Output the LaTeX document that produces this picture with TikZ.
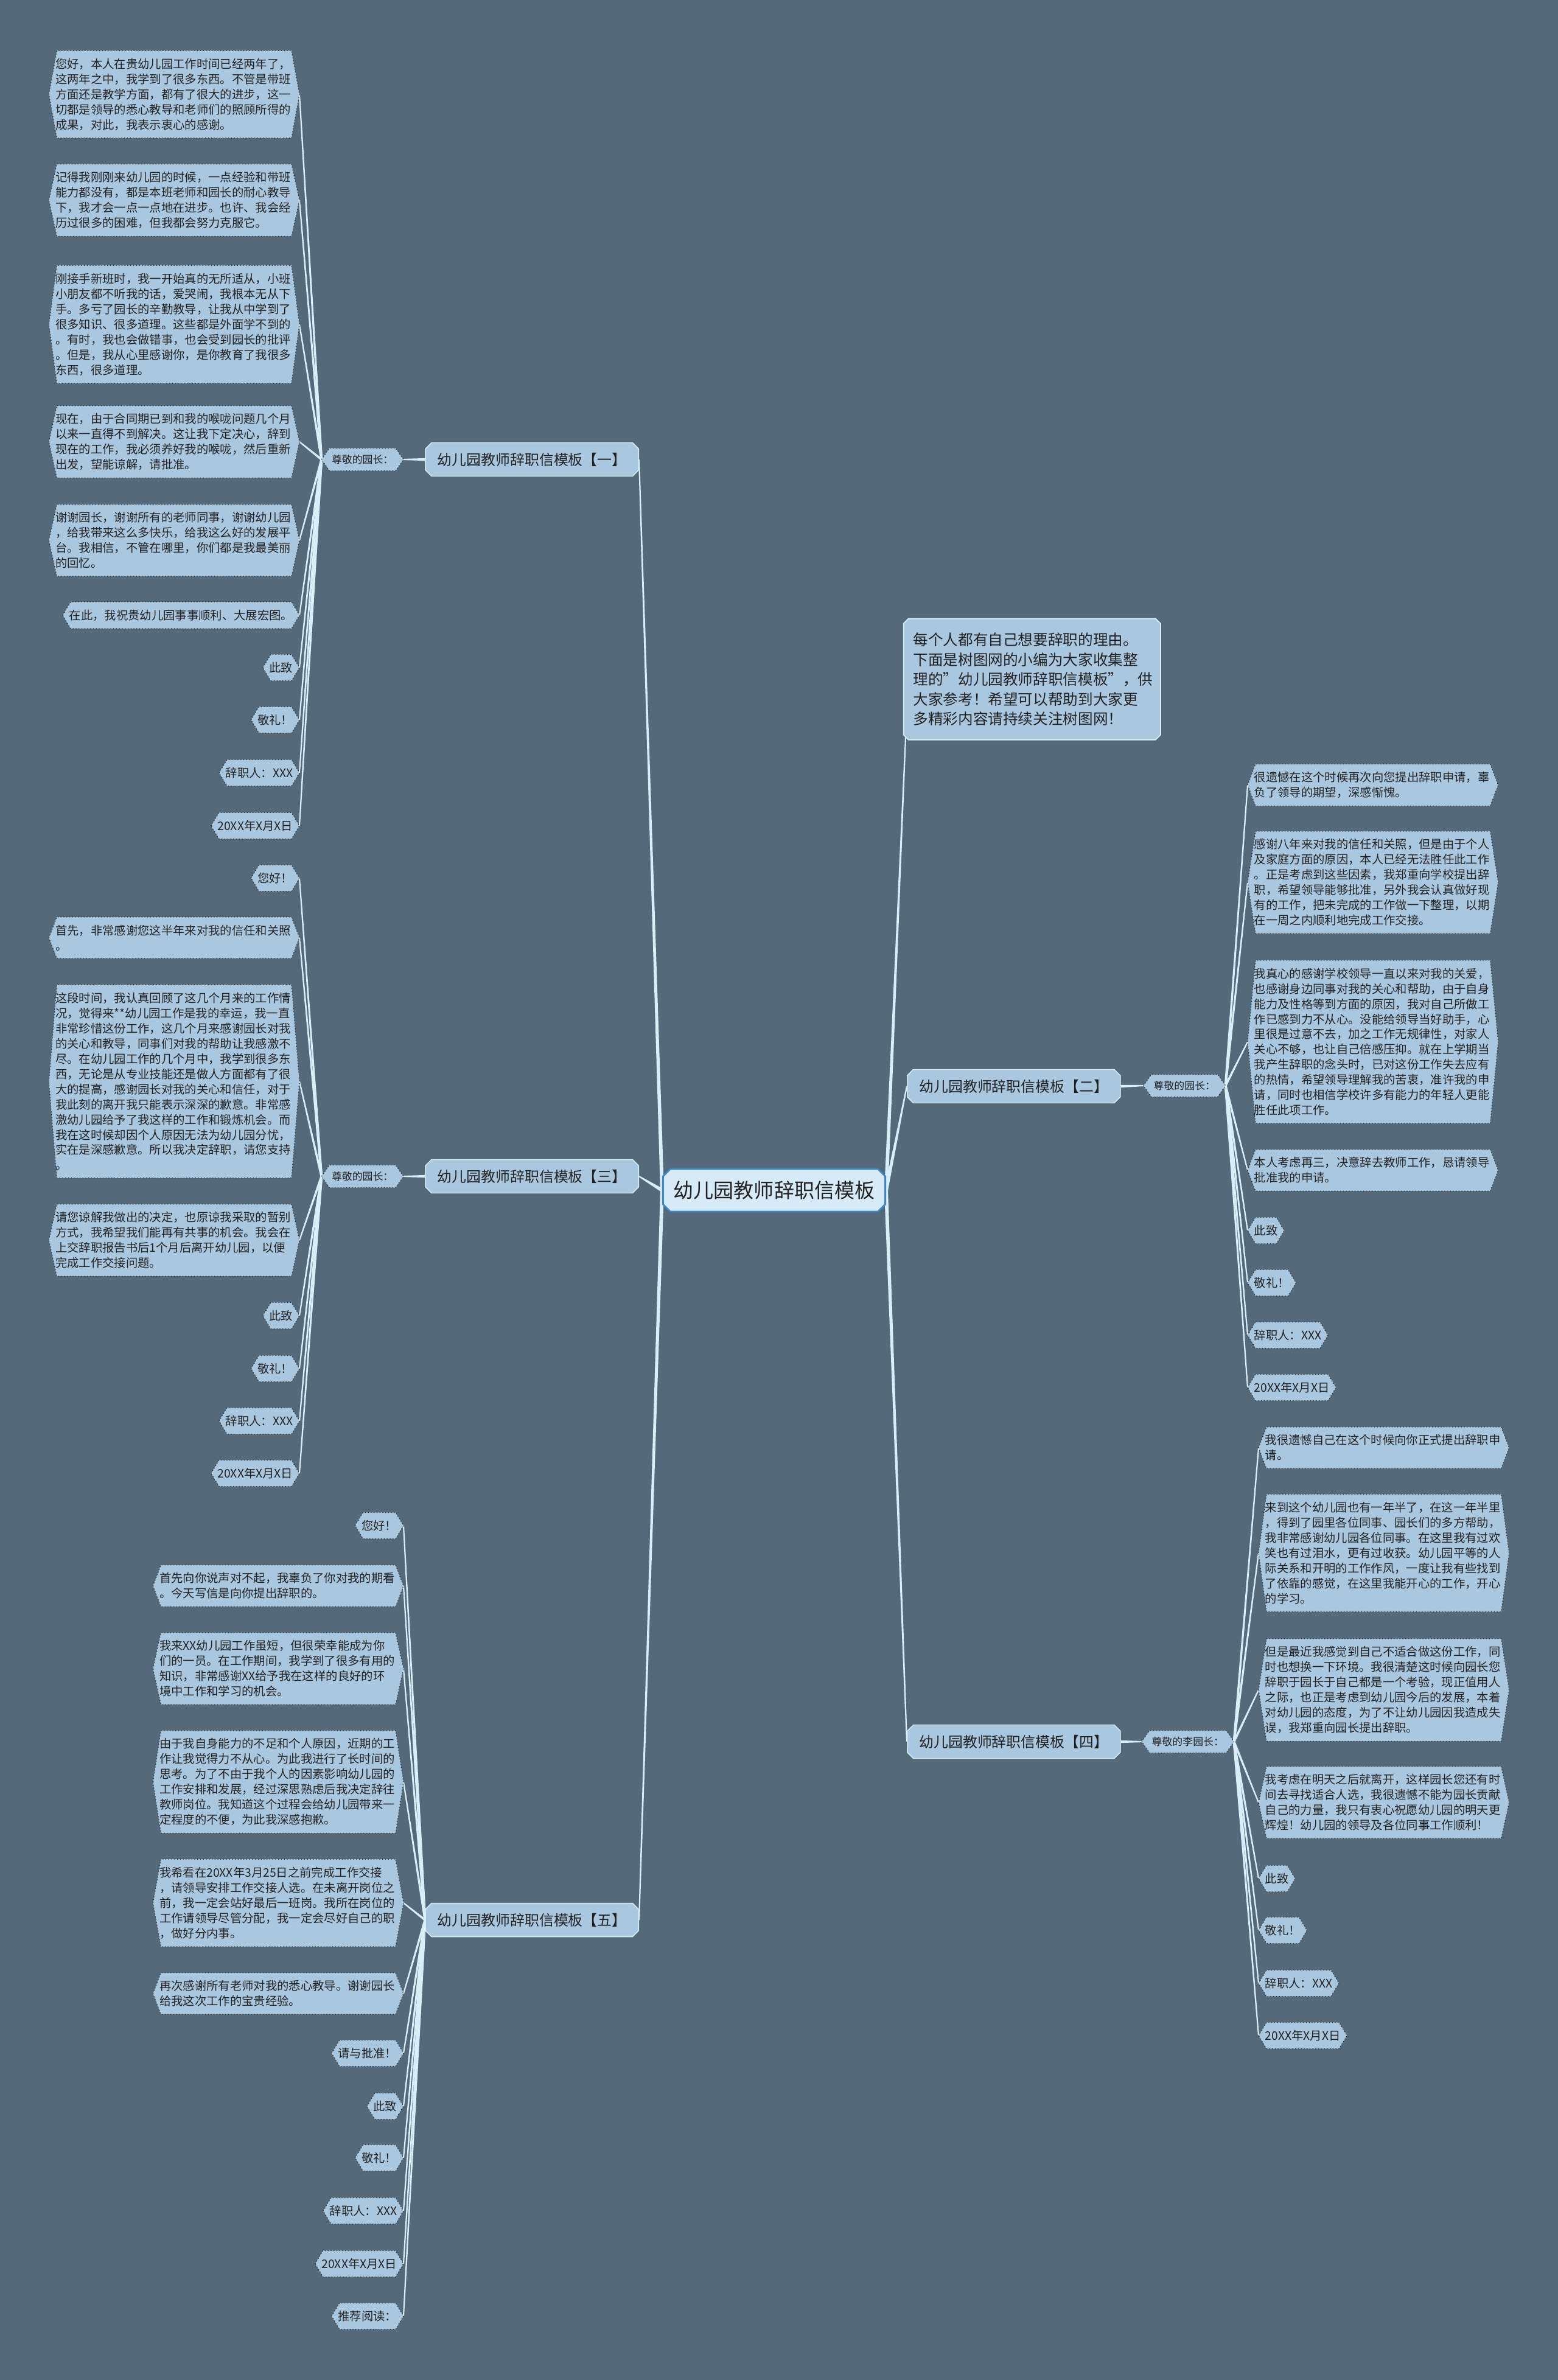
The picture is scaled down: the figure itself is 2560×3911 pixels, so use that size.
\documentclass[tikz,border=0pt]{standalone}
\usepackage{fontspec}
\setmainfont{Noto Sans CJK SC}
\usetikzlibrary{calc, shapes.misc, backgrounds}
\definecolor{slate}{HTML}{546A7B}
\definecolor{leafblue}{HTML}{A9C8E0}
\definecolor{rootblue}{HTML}{D6EAF7}
\definecolor{rootline}{HTML}{3F86C8}
\definecolor{linkcyan}{HTML}{D8EEF9}
\definecolor{inkgrey}{HTML}{222222}

% hexagon frame behind a leaf node
\newcommand{\hexframe}[1]{%
  \filldraw[fill=leafblue, draw=black!85, densely dotted, line width=0.35pt]
    (#1.west) -- ([xshift=0.13cm]#1.north west) -- ([xshift=-0.13cm]#1.north east)
    -- (#1.east) -- ([xshift=-0.13cm]#1.south east) -- ([xshift=0.13cm]#1.south west) -- cycle;}
% tapered connector, thick at the parent end
\newcommand{\taper}[3][0.55pt]{%
  \fill[linkcyan] ($(#2)!#1!90:(#3)$) -- ($(#3)!0.3pt!-90:(#2)$)
    -- ($(#3)!0.3pt!90:(#2)$) -- ($(#2)!#1!-90:(#3)$) -- cycle;}

\tikzset{
  leaf/.style={inner xsep=0.1cm, inner ysep=0.12cm, text=inkgrey, font=\fontsize{5.5pt}{7.1pt}\selectfont},
  para/.style={leaf, text width=3.9cm, align=left},
  greet/.style={inner xsep=0.16cm, inner ysep=0.1cm, text=inkgrey, font=\fontsize{4.8pt}{6pt}\selectfont},
  branch/.style={chamfered rectangle, chamfered rectangle xsep=0.05cm, chamfered rectangle ysep=0.05cm,
    draw=linkcyan, line width=0.4pt, fill=leafblue, text=inkgrey, minimum width=3.5cm, minimum height=0.55cm,
    inner sep=0pt, font=\fontsize{6.8pt}{8pt}\selectfont},
  rootbox/.style={chamfered rectangle, chamfered rectangle xsep=0.06cm, chamfered rectangle ysep=0.06cm,
    draw=rootline, line width=0.8pt, fill=rootblue, text=inkgrey, minimum width=3.65cm, minimum height=0.7cm,
    inner sep=0pt, font=\fontsize{9.4pt}{11pt}\selectfont},
  introbox/.style={chamfered rectangle, chamfered rectangle xsep=0.04cm, chamfered rectangle ysep=0.04cm,
    draw=linkcyan, line width=0.5pt, fill=leafblue, text=inkgrey, text width=3.9cm, align=left,
    inner xsep=0.12cm, inner ysep=0.19cm, font=\fontsize{7pt}{9.25pt}\selectfont}
}

\begin{document}
\begin{tikzpicture}[x=0.01cm, y=-0.01cm]
\useasboundingbox (0,0) rectangle (2560,3911);
\begin{scope}[on background layer]
  \fill[slate] (0,0) rectangle (2560,3911);
\end{scope}

% centre and main branches
\node[rootbox] (root) at (1272,1956) {幼儿园教师辞职信模板};
\node[introbox, anchor=north west] (intro) at (1488,1020) {每个人都有自己想要辞职的理由。\\下面是树图网的小编为大家收集整\\理的\symbol{34}幼儿园教师辞职信模板\symbol{34}，供\\大家参考！希望可以帮助到大家更\\多精彩内容请持续关注树图网！};
\node[branch, anchor=east] (br1) at (1050,755) {幼儿园教师辞职信模板【一】};
\node[branch, anchor=west] (br2) at (1490,1785) {幼儿园教师辞职信模板【二】};
\node[branch, anchor=east] (br3) at (1050,1933) {幼儿园教师辞职信模板【三】};
\node[branch, anchor=west] (br4) at (1490,2862) {幼儿园教师辞职信模板【四】};
\node[branch, anchor=east] (br5) at (1050,3155) {幼儿园教师辞职信模板【五】};

\node[greet, anchor=east] (g1) at (663,755) {尊敬的园长：};
\node[greet, anchor=west] (g2) at (1879,1784) {尊敬的园长：};
\node[greet, anchor=east] (g3) at (663,1933) {尊敬的园长：};
\node[greet, anchor=west] (g4) at (1876,2862) {尊敬的李园长：};

% letter one
\node[para, anchor=east] (a1) at (492,155) {您好，本人在贵幼儿园工作时间已经两年了，\\这两年之中，我学到了很多东西。不管是带班\\方面还是教学方面，都有了很大的进步，这一\\切都是领导的悉心教导和老师们的照顾所得的\\成果，对此，我表示衷心的感谢。};
\node[para, anchor=east] (a2) at (492,329) {记得我刚刚来幼儿园的时候，一点经验和带班\\能力都没有，都是本班老师和园长的耐心教导\\下，我才会一点一点地在进步。也许、我会经\\历过很多的困难，但我都会努力克服它。};
\node[para, anchor=east] (a3) at (492,533) {刚接手新班时，我一开始真的无所适从，小班\\小朋友都不听我的话，爱哭闹，我根本无从下\\手。多亏了园长的辛勤教导，让我从中学到了\\很多知识、很多道理。这些都是外面学不到的\\。有时，我也会做错事，也会受到园长的批评\\。但是，我从心里感谢你，是你教育了我很多\\东西，很多道理。};
\node[para, anchor=east] (a4) at (492,726) {现在，由于合同期已到和我的喉咙问题几个月\\以来一直得不到解决。这让我下定决心，辞到\\现在的工作，我必须养好我的喉咙，然后重新\\出发，望能谅解，请批准。};
\node[para, anchor=east] (a5) at (492,888) {谢谢园长，谢谢所有的老师同事，谢谢幼儿园\\，给我带来这么多快乐，给我这么好的发展平\\台。我相信，不管在哪里，你们都是我最美丽\\的回忆。};
\node[leaf, anchor=east] (a6) at (492,1011) {在此，我祝贵幼儿园事事顺利、大展宏图。};
\node[leaf, anchor=east] (a7) at (492,1097) {此致};
\node[leaf, anchor=east] (a8) at (492,1183) {敬礼！};
\node[leaf, anchor=east] (a9) at (492,1270) {辞职人：XXX};
\node[leaf, anchor=east] (a10) at (492,1357) {20XX年X月X日};

% letter three
\node[leaf, anchor=east] (b1) at (492,1443) {您好！};
\node[para, anchor=east] (b2) at (492,1541) {首先，非常感谢您这半年来对我的信任和关照\\。};
\node[para, anchor=east] (b3) at (492,1777) {这段时间，我认真回顾了这几个月来的工作情\\况，觉得来**幼儿园工作是我的幸运，我一直\\非常珍惜这份工作，这几个月来感谢园长对我\\的关心和教导，同事们对我的帮助让我感激不\\尽。在幼儿园工作的几个月中，我学到很多东\\西，无论是从专业技能还是做人方面都有了很\\大的提高，感谢园长对我的关心和信任，对于\\我此刻的离开我只能表示深深的歉意。非常感\\激幼儿园给予了我这样的工作和锻炼机会。而\\我在这时候却因个人原因无法为幼儿园分忧，\\实在是深感歉意。所以我决定辞职，请您支持\\。};
\node[para, anchor=east] (b4) at (492,2038) {请您谅解我做出的决定，也原谅我采取的暂别\\方式，我希望我们能再有共事的机会。我会在\\上交辞职报告书后1个月后离开幼儿园，以便\\完成工作交接问题。};
\node[leaf, anchor=east] (b5) at (492,2162) {此致};
\node[leaf, anchor=east] (b6) at (492,2249) {敬礼！};
\node[leaf, anchor=east] (b7) at (492,2335) {辞职人：XXX};
\node[leaf, anchor=east] (b8) at (492,2421) {20XX年X月X日};

% letter five
\node[leaf, anchor=east] (c1) at (663,2507) {您好！};
\node[para, anchor=east] (c2) at (663,2606) {首先向你说声对不起，我辜负了你对我的期看\\。今天写信是向你提出辞职的。};
\node[para, anchor=east] (c3) at (663,2742) {我来XX幼儿园工作虽短，但很荣幸能成为你\\们的一员。在工作期间，我学到了很多有用的\\知识，非常感谢XX给予我在这样的良好的环\\境中工作和学习的机会。};
\node[para, anchor=east] (c4) at (663,2928) {由于我自身能力的不足和个人原因，近期的工\\作让我觉得力不从心。为此我进行了长时间的\\思考。为了不由于我个人的因素影响幼儿园的\\工作安排和发展，经过深思熟虑后我决定辞往\\教师岗位。我知道这个过程会给幼儿园带来一\\定程度的不便，为此我深感抱歉。};
\node[para, anchor=east] (c5) at (663,3127) {我希看在20XX年3月25日之前完成工作交接\\，请领导安排工作交接人选。在未离开岗位之\\前，我一定会站好最后一班岗。我所在岗位的\\工作请领导尽管分配，我一定会尽好自己的职\\，做好分内事。};
\node[para, anchor=east] (c6) at (663,3276) {再次感谢所有老师对我的悉心教导。谢谢园长\\给我这次工作的宝贵经验。};
\node[leaf, anchor=east] (c7) at (663,3374) {请与批准！};
\node[leaf, anchor=east] (c8) at (663,3461) {此致};
\node[leaf, anchor=east] (c9) at (663,3546) {敬礼！};
\node[leaf, anchor=east] (c10) at (663,3633) {辞职人：XXX};
\node[leaf, anchor=east] (c11) at (663,3720) {20XX年X月X日};
\node[leaf, anchor=east] (c12) at (663,3806) {推荐阅读：};

% letter two
\node[para, anchor=west] (d1) at (2050,1290) {很遗憾在这个时候再次向您提出辞职申请，辜\\负了领导的期望，深感惭愧。};
\node[para, anchor=west] (d2) at (2050,1450) {感谢八年来对我的信任和关照，但是由于个人\\及家庭方面的原因，本人已经无法胜任此工作\\。正是考虑到这些因素，我郑重向学校提出辞\\职，希望领导能够批准，另外我会认真做好现\\有的工作，把未完成的工作做一下整理，以期\\在一周之内顺利地完成工作交接。};
\node[para, anchor=west] (d3) at (2050,1712) {我真心的感谢学校领导一直以来对我的关爱，\\也感谢身边同事对我的关心和帮助，由于自身\\能力及性格等到方面的原因，我对自己所做工\\作已感到力不从心。没能给领导当好助手，心\\里很是过意不去，加之工作无规律性，对家人\\关心不够，也让自己倍感压抑。就在上学期当\\我产生辞职的念头时，已对这份工作失去应有\\的热情，希望领导理解我的苦衷，准许我的申\\请，同时也相信学校许多有能力的年轻人更能\\胜任此项工作。};
\node[para, anchor=west] (d4) at (2050,1923) {本人考虑再三，决意辞去教师工作，恳请领导\\批准我的申请。};
\node[leaf, anchor=west] (d5) at (2050,2022) {此致};
\node[leaf, anchor=west] (d6) at (2050,2108) {敬礼！};
\node[leaf, anchor=west] (d7) at (2050,2194) {辞职人：XXX};
\node[leaf, anchor=west] (d8) at (2050,2280) {20XX年X月X日};

% letter four
\node[para, anchor=west] (e1) at (2068,2379) {我很遗憾自己在这个时候向你正式提出辞职申\\请。};
\node[para, anchor=west] (e2) at (2068,2552) {来到这个幼儿园也有一年半了，在这一年半里\\，得到了园里各位同事、园长们的多方帮助，\\我非常感谢幼儿园各位同事。在这里我有过欢\\笑也有过泪水，更有过收获。幼儿园平等的人\\际关系和开明的工作作风，一度让我有些找到\\了依靠的感觉，在这里我能开心的工作，开心\\的学习。};
\node[para, anchor=west] (e3) at (2068,2777) {但是最近我感觉到自己不适合做这份工作，同\\时也想换一下环境。我很清楚这时候向园长您\\辞职于园长于自己都是一个考验，现正值用人\\之际，也正是考虑到幼儿园今后的发展，本着\\对幼儿园的态度，为了不让幼儿园因我造成失\\误，我郑重向园长提出辞职。};
\node[para, anchor=west] (e4) at (2068,2962) {我考虑在明天之后就离开，这样园长您还有时\\间去寻找适合人选，我很遗憾不能为园长贡献\\自己的力量，我只有衷心祝愿幼儿园的明天更\\辉煌！幼儿园的领导及各位同事工作顺利！};
\node[leaf, anchor=west] (e5) at (2068,3087) {此致};
\node[leaf, anchor=west] (e6) at (2068,3172) {敬礼！};
\node[leaf, anchor=west] (e7) at (2068,3259) {辞职人：XXX};
\node[leaf, anchor=west] (e8) at (2068,3345) {20XX年X月X日};

\begin{scope}[on background layer]
  % connectors
  \foreach \b in {br1,br3,br5} \taper[0.85pt]{root.west}{\b.east};
  \foreach \b in {intro.south west,br2.west,br4.west} \taper[0.85pt]{root.east}{\b};
  \taper[0.6pt]{br1.west}{g1.east}
  \taper[0.6pt]{br3.west}{g3.east}
  \taper[0.6pt]{br2.east}{g2.west}
  \taper[0.6pt]{br4.east}{g4.west}
  \foreach \n in {1,...,10} \taper{g1.west}{a\n.east};
  \foreach \n in {1,...,8} \taper{g3.west}{b\n.east};
  \foreach \n in {1,...,12} \taper{br5.west}{c\n.east};
  \foreach \n in {1,...,8} \taper{g2.east}{d\n.west};
  \foreach \n in {1,...,8} \taper{g4.east}{e\n.west};
  % frames
  \foreach \n in {1,...,10} \hexframe{a\n};
  \foreach \n in {1,...,8} \hexframe{b\n};
  \foreach \n in {1,...,12} \hexframe{c\n};
  \foreach \n in {1,...,8} \hexframe{d\n};
  \foreach \n in {1,...,8} \hexframe{e\n};
  \foreach \n in {1,...,4} \hexframe{g\n};
\end{scope}
\end{tikzpicture}
\end{document}
